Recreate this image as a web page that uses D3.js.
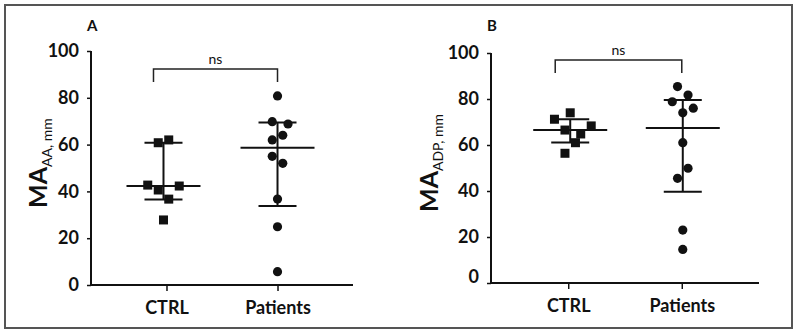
<!DOCTYPE html>
<html>
<head>
<meta charset="utf-8">
<script src="https://cdn.jsdelivr.net/npm/d3@7"></script>
<style>
  body { margin: 0; background: #fff; }
  svg text { font-family: Lato, "Open Sans", sans-serif; fill: #111; }
</style>
</head>
<body>
<div id="chart"></div>
<script>
// groups on the x axis
var groups = ["CTRL", "Patients"];
var yTicks = [0, 20, 40, 60, 80, 100];

// panel A (MA AA, mm) values
var aCtrl = [60.8, 62, 42.7, 40.6, 42.3, 36.7, 27.8];
var aCtrlSlot = [-0.5, 0.5, -1.5, -0.5, 1.5, 0.5, 0];
var aPat = [80.8, 69.8, 68.8, 62, 64, 55, 52, 36.7, 24.9, 5.7];
var aPatSlot = [0, -0.5, 1, -0.5, 0.5, -0.5, 0.5, 0, 0, 0];
// median, lower, upper
var aCtrlStats = [42.3, 36.5, 60.8];
var aPatStats = [58.7, 33.8, 69.4];

// panel B (MA ADP, mm) values
var bCtrl = [71.2, 74, 68.3, 66.5, 64.8, 61, 56.4];
var bCtrlSlot = [-1.5, 0, 2, -0.5, 1, 0.5, -0.5];
var bPat = [85.4, 81.7, 78.8, 76, 74, 61, 49.9, 45.5, 23, 14.6];
var bPatSlot = [-0.5, 0.5, -1, 1, 0, 0, 0.5, -0.5, 0, 0];
var bCtrlStats = [66.5, 61.1, 71.2];
var bPatStats = [67.4, 39.7, 79.6];

var W = 797, H = 333;

var svg = d3.select("#chart").append("svg")
    .attr("width", W)
    .attr("height", H);

// outer frame
svg.append("rect")
    .attr("x", 5).attr("y", 5)
    .attr("width", 787).attr("height", 323)
    .style("fill", "none")
    .style("stroke", "#555")
    .style("stroke-width", 2);

function drawPanel(cfg) {
    var g = svg.append("g");

    var y = d3.scaleLinear().domain([0, 100]).range([cfg.y0, cfg.y100]);
    var x = d3.scalePoint().domain(groups).range([cfg.xl, cfg.xr]).padding(0.68);
    var slotW = 10.5;

    // y axis
    var yAxis = d3.axisLeft(y).tickValues(yTicks).tickSize(4).tickPadding(8);
    var ya = g.append("g")
        .attr("transform", "translate(" + cfg.xl + ",0)")
        .call(yAxis);
    ya.select(".domain").style("stroke", "#111").style("stroke-width", 2)
        .attr("d", "M0," + y(100) + "V" + y(0));
    ya.selectAll(".tick line").style("stroke", "#111").style("stroke-width", 1.5);
    ya.selectAll(".tick text")
        .style("font-size", "18px")
        .style("font-weight", "bold")
        .style("fill", "#111")
        .attr("dy", function (d) { return d === 0 ? cfg.zeroDy : "0.32em"; });

    // x axis
    var xAxis = d3.axisBottom(x).tickSize(6).tickPadding(10);
    var xa = g.append("g")
        .attr("transform", "translate(0," + cfg.y0 + ")")
        .call(xAxis);
    xa.select(".domain").style("stroke", "#111").style("stroke-width", 2)
        .attr("d", "M" + cfg.xl + ",0H" + cfg.xr);
    xa.selectAll(".tick line").style("stroke", "#111").style("stroke-width", 1.5);
    xa.selectAll(".tick text")
        .style("font-size", "18px")
        .style("font-weight", "bold")
        .style("fill", "#111");

    // panel letter
    g.append("text")
        .attr("x", cfg.xl - 4).attr("y", 31)
        .style("font-size", "15px")
        .style("font-weight", "bold")
        .text(cfg.letter);

    // y label with subscript
    var lab = g.append("text")
        .attr("transform", "translate(" + cfg.labX + "," + 163 + ") rotate(-90)")
        .attr("text-anchor", "middle");
    lab.append("tspan")
        .style("font-size", "25px")
        .style("font-weight", "bold")
        .text("MA");
    lab.append("tspan")
        .attr("dy", 5)
        .style("font-size", "14px")
        .text(cfg.sub + ", mm");

    // significance bracket
    var bx1 = x("CTRL") - 13, bx2 = x("Patients");
    g.append("path")
        .attr("d", "M" + bx1 + "," + (cfg.brTop + 13) + "V" + cfg.brTop + "H" + bx2 + "V" + (cfg.brTop + 13))
        .style("fill", "none")
        .style("stroke", "#222")
        .style("stroke-width", 1.5);
    g.append("text")
        .attr("x", (bx1 + bx2) / 2).attr("y", cfg.brTop - 5)
        .attr("text-anchor", "middle")
        .style("font-size", "14px")
        .text("ns");

    // each group: median / range bars and points
    cfg.sets.forEach(function (s) {
        var cx = x(s.group) + s.shift;
        var st = s.stats;
        var lines = g.append("g")
            .style("stroke", "#111")
            .style("stroke-width", 2);
        lines.append("line")
            .attr("x1", cx).attr("x2", cx)
            .attr("y1", y(st[1])).attr("y2", y(st[2]));
        lines.append("line")
            .attr("x1", cx - 37).attr("x2", cx + 37)
            .attr("y1", y(st[0])).attr("y2", y(st[0]));
        [st[1], st[2]].forEach(function (v) {
            lines.append("line")
                .attr("x1", cx - 19).attr("x2", cx + 19)
                .attr("y1", y(v)).attr("y2", y(v));
        });

        var pts = s.values.map(function (v, i) { return { v: v, slot: s.slots[i] }; });
        if (s.shape === "square") {
            g.selectAll(null).data(pts).enter().append("rect")
                .attr("x", function (d) { return cx + d.slot * slotW - 4.5; })
                .attr("y", function (d) { return y(d.v) - 4.5; })
                .attr("width", 9).attr("height", 9)
                .style("fill", "#111");
        } else {
            g.selectAll(null).data(pts).enter().append("circle")
                .attr("cx", function (d) { return cx + d.slot * slotW; })
                .attr("cy", function (d) { return y(d.v); })
                .attr("r", 4.6)
                .style("fill", "#111");
        }
    });
}

drawPanel({
    letter: "A", sub: "AA",
    xl: 91, xr: 353, y0: 285, y100: 51,
    labX: 47, brTop: 69, zeroDy: "0.32em",
    sets: [
        { group: "CTRL", values: aCtrl, slots: aCtrlSlot, stats: aCtrlStats, shape: "square", shift: -3 },
        { group: "Patients", values: aPat, slots: aPatSlot, stats: aPatStats, shape: "circle", shift: 0 }
    ]
});

drawPanel({
    letter: "B", sub: "ADP",
    xl: 491, xr: 759, y0: 283, y100: 53,
    labX: 438, brTop: 60, zeroDy: "-0.05em",
    sets: [
        { group: "CTRL", values: bCtrl, slots: bCtrlSlot, stats: bCtrlStats, shape: "square", shift: 2 },
        { group: "Patients", values: bPat, slots: bPatSlot, stats: bPatStats, shape: "circle", shift: 1 }
    ]
});
</script>
</body>
</html>
